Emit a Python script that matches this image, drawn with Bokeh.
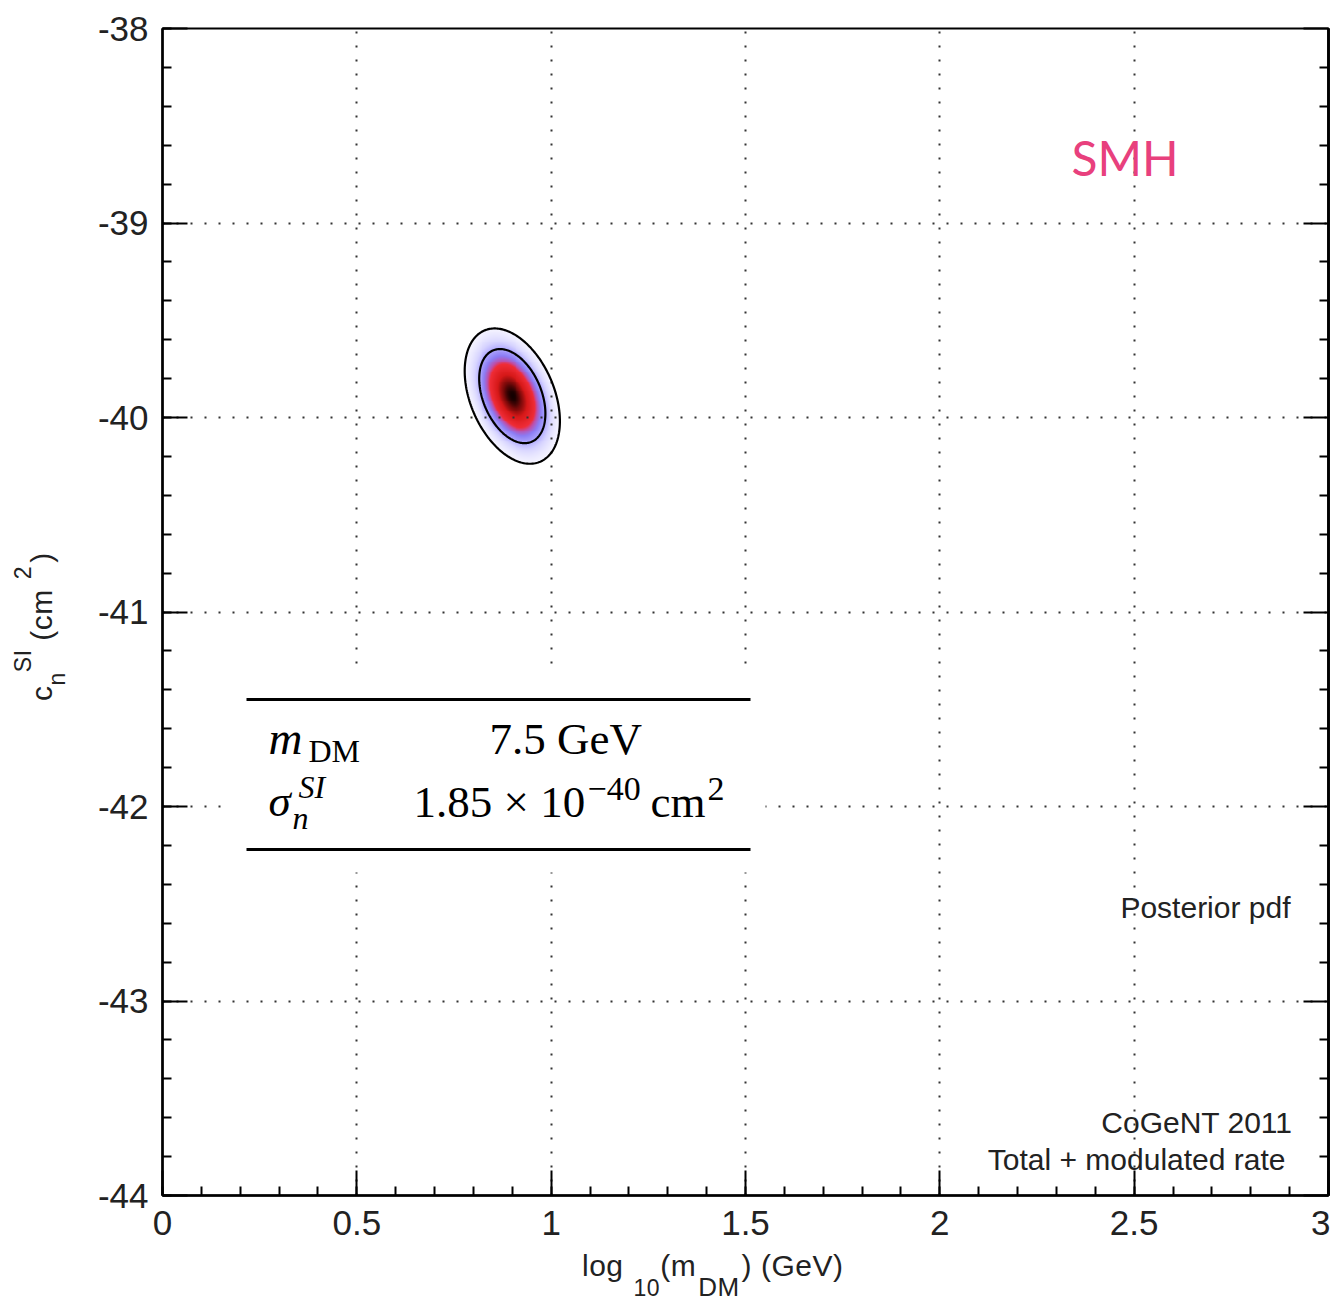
import numpy as np
from bokeh.plotting import figure
from bokeh.layouts import row, column
from bokeh.models import (LinearAxis, SingleIntervalTicker, FixedTicker, Label,
                          BoxAnnotation, Range1d, Div)
from bokeh.embed import file_html
from bokeh.resources import INLINE

# ---------------- data ----------------
x_limits = [0.0, 3.0]
y_limits = [-44.0, -38.0]
x_major_step = 0.5
y_major_step = 1.0
y_tick_values = [-44, -43, -42, -41, -40, -39, -38]
y_tick_labels = ["-44", "-43", "-42", "-41", "-40", "-39", "-38"]
y_minor_values = [-44 + 0.2 * i for i in range(31) if i % 5 != 0]

# posterior pdf
peak_log10_mass = 0.90
peak_log10_sigma = -39.89
width_log10_mass = 0.050
width_log10_sigma = 0.142
correlation = -0.37
contour_chi2_levels = [2.9, 6.0]

# colour map of the pdf: density fraction -> RGBA
cmap_pos = [0.0, 0.04, 0.05, 0.15, 0.235, 0.35, 0.45, 0.52, 0.75, 0.90, 1.0]
cmap_r = [255, 255, 246, 215, 175, 140, 190, 240, 215, 120, 20]
cmap_g = [255, 255, 245, 212, 168, 125, 80, 45, 25, 10, 0]
cmap_b = [255, 255, 255, 255, 255, 245, 170, 55, 25, 10, 0]
cmap_a = [0, 0, 255, 255, 255, 255, 255, 255, 255, 255, 255]

table_m_dm = "7.5 GeV"
table_sigma_mantissa = "1.85 \u00d7 10"
table_sigma_exponent = "\u221240"

# ---------------- layout (page pixels) ----------------
YLAB_W = 70
FRAME_L, FRAME_R, FRAME_T, FRAME_B = 162, 1328, 28, 1195
P_BOTTOM = 55


def dx(px):
    return x_limits[0] + (px - FRAME_L) / (FRAME_R - FRAME_L) * (x_limits[1] - x_limits[0])


def dy(py):
    return y_limits[1] - (py - FRAME_T) / (FRAME_B - FRAME_T) * (y_limits[1] - y_limits[0])


p = figure(frame_width=FRAME_R - FRAME_L, frame_height=FRAME_B - FRAME_T,
           min_border_left=FRAME_L - YLAB_W, min_border_top=FRAME_T,
           min_border_right=2, min_border_bottom=P_BOTTOM,
           x_range=Range1d(*x_limits), y_range=Range1d(*y_limits),
           output_backend="svg", toolbar_location=None,
           background_fill_color="white", border_fill_color="white")
p.outline_line_color = "black"
p.outline_line_width = 2

xt = SingleIntervalTicker(interval=x_major_step, num_minor_ticks=5)
yt = SingleIntervalTicker(interval=y_major_step, num_minor_ticks=5)
p.xaxis.ticker = xt
p.yaxis.ticker = yt
p.xgrid.ticker = xt
p.ygrid.ticker = yt
p.yaxis.major_label_overrides = {v: s for v, s in zip(y_tick_values, y_tick_labels)}

for ax in (p.xaxis[0], p.yaxis[0]):
    ax.major_tick_in = 25
    ax.major_tick_out = 0
    ax.minor_tick_in = 9
    ax.minor_tick_out = 0
    ax.axis_line_width = 2.5
    ax.major_tick_line_width = 2
    ax.minor_tick_line_width = 2
    ax.major_label_text_font = "Liberation Sans"
    ax.major_label_text_font_size = "35px"
    ax.major_label_text_color = "#222222"
p.xaxis.major_label_standoff = 15
p.yaxis.major_label_standoff = 14

# mirrored ticks on the right side (no labels)
for ticks, length in ((y_tick_values, 25), (y_minor_values, 9)):
    rax = LinearAxis(ticker=FixedTicker(ticks=[], minor_ticks=ticks),
                     minor_tick_in=length, minor_tick_out=0, minor_tick_line_width=2,
                     major_tick_in=0, major_tick_out=0, axis_line_width=2.5)
    p.add_layout(rax, "right")

for g in (p.xgrid[0], p.ygrid[0]):
    g.grid_line_color = "#333333"
    g.grid_line_width = 2
    g.grid_line_dash = [2, 12]
    g.level = "underlay"

# ---------------- posterior image ----------------
nx, ny = 240, 300
gx0, gx1 = 0.6, 1.2
gy0, gy1 = -40.6, -39.2
xs = np.linspace(gx0, gx1, nx)
ys = np.linspace(gy0, gy1, ny)
X, Y = np.meshgrid(xs, ys)
ux = (X - peak_log10_mass) / width_log10_mass
uy = (Y - peak_log10_sigma) / width_log10_sigma
chi2 = (ux ** 2 - 2 * correlation * ux * uy + uy ** 2) / (1 - correlation ** 2)
dens = np.exp(-chi2 / 2)

img = np.empty((ny, nx), dtype=np.uint32)
view = img.view(dtype=np.uint8).reshape((ny, nx, 4))
view[:, :, 0] = np.interp(dens, cmap_pos, cmap_r).astype(np.uint8)
view[:, :, 1] = np.interp(dens, cmap_pos, cmap_g).astype(np.uint8)
view[:, :, 2] = np.interp(dens, cmap_pos, cmap_b).astype(np.uint8)
view[:, :, 3] = np.interp(dens, cmap_pos, cmap_a).astype(np.uint8)
p.image_rgba(image=[img], x=gx0, y=gy0, dw=gx1 - gx0, dh=gy1 - gy0, level="image")

# contours (ellipses of the gaussian pdf)
cov = np.array([[width_log10_mass ** 2, correlation * width_log10_mass * width_log10_sigma],
                [correlation * width_log10_mass * width_log10_sigma, width_log10_sigma ** 2]])
L = np.linalg.cholesky(cov)
t = np.linspace(0, 2 * np.pi, 241)
circ = np.vstack([np.cos(t), np.sin(t)])
for k in contour_chi2_levels:
    pts = np.sqrt(k) * (L @ circ)
    p.line(peak_log10_mass + pts[0], peak_log10_sigma + pts[1], line_color="black", line_width=2.2)

# ---------------- table inset ----------------
box = BoxAnnotation(left=dx(226), right=dx(765), top=dy(665), bottom=dy(872),
                    fill_color="white", fill_alpha=1.0, line_alpha=0, level="underlay")
p.add_layout(box)
for yy in (699, 849):
    p.segment(x0=[dx(246)], x1=[dx(750)], y0=[dy(yy)], y1=[dy(yy)],
              line_color="black", line_width=3)


def lab(text, px, py, size, font="Liberation Sans", style="normal", color="black",
        align="left"):
    # py is the wanted baseline; the svg text sits ~0.37 em lower, so compensate
    p.add_layout(Label(x=dx(px), y=dy(py - 0.37 * size), text=text, text_font=font,
                       text_font_size=f"{size}px", text_font_style=style,
                       text_color=color, text_align=align, text_baseline="alphabetic"))


SERIF = "Liberation Serif"
lab("m", 268, 755, 47, SERIF, "italic")
lab("DM", 308, 762, 32, SERIF)
lab(table_m_dm, 489, 755, 45, SERIF)
lab("\u03c3", 268, 817, 45, SERIF, "italic")
lab("n", 292, 829, 32, SERIF, "italic")
lab("SI", 298, 798, 32, SERIF, "italic")
lab(table_sigma_mantissa, 413, 818, 45, SERIF)
lab(table_sigma_exponent, 587, 801, 34, SERIF)
lab("cm", 650, 818, 45, SERIF)
lab("2", 707, 801, 34, SERIF)

# ---------------- annotations ----------------
lab("SMH", 1071, 175, 48, "Lato", color="#e8407d")
lab("Posterior pdf", 1290, 918, 30, align="right", color="#222222")
lab("CoGeNT 2011", 1292, 1133, 30, align="right", color="#222222")
lab("Total + modulated rate", 1285, 1170, 30, align="right", color="#222222")

# ---------------- axis titles (HTML so that sub/superscripts are real text) ----------------
P_HEIGHT = FRAME_B + P_BOTTOM
XLAB_H = 1300 - P_HEIGHT
SUB = "font-size:23px; position:relative;"
xlab_html = (
    f'<div style="margin-left:{582 - YLAB_W}px; margin-top:1px; font-family:\'Liberation Sans\';'
    ' font-size:30px; line-height:30px; color:#222222; white-space:nowrap; letter-spacing:0.5px;">'
    f'log<span style="{SUB} top:20px; margin-left:10px;">10</span>'
    f'(m<span style="font-size:26px; position:relative; top:20px; margin-left:2px;">DM</span>'
    '<span style="margin-left:2px;">)</span> (GeV)</div>'
)
xlab = Div(text=xlab_html, width=FRAME_R - YLAB_W + 3, height=XLAB_H, margin=0)

ylab_html = (
    '<div style="margin-top:701px; margin-left:27px; width:max-content; transform-origin:0 0;'
    ' transform:rotate(-90deg); font-family:\'Liberation Sans\'; font-size:30px; line-height:30px;'
    ' color:#222222; white-space:nowrap; letter-spacing:0.5px;">'
    f'c<span style="{SUB} top:13px;">n</span><span style="{SUB} top:-21px;">SI</span>'
    f' (cm<span style="{SUB} top:-21px; margin-left:10px;">2</span>'
    '<span style="margin-left:3px;">)</span></div>'
)
ylab = Div(text=ylab_html, width=YLAB_W, height=1300, margin=0)

layout = row(ylab, column(p, xlab, spacing=0), spacing=0)
open("out.html", "w").write(file_html(layout, INLINE))
